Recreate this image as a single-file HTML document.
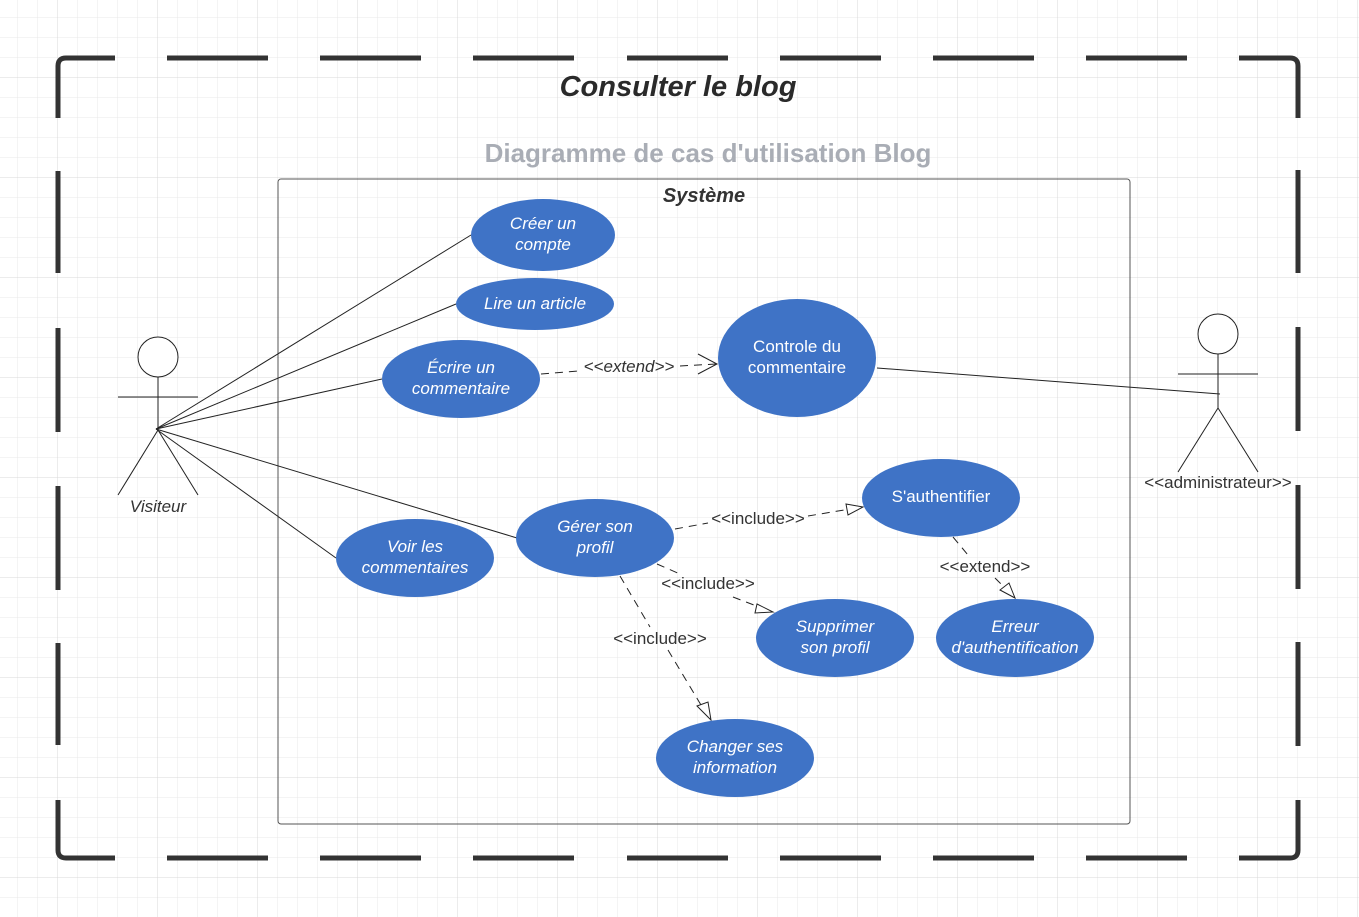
<!DOCTYPE html>
<html><head><meta charset="utf-8"><style>
body{margin:0;width:1359px;height:917px;overflow:hidden;background:#fff}
svg{display:block}
text{font-family:"Liberation Sans",sans-serif}
.uc{fill:#3f73c6}
.ut{fill:#fff;font-size:17px;font-style:italic;text-anchor:middle}
.un{fill:#fff;font-size:17px;text-anchor:middle}
.lbl{fill:#333;font-size:17px;text-anchor:middle}
</style></head><body>
<svg width="1359" height="917" xmlns="http://www.w3.org/2000/svg">
<defs>
<pattern id="g" x="-2" y="-2" width="20" height="20" patternUnits="userSpaceOnUse"><path d="M20 0V20M0 20H20" stroke="#e8e8e8" stroke-width="1" fill="none"/></pattern>
<pattern id="G" x="-42" y="-22" width="100" height="100" patternUnits="userSpaceOnUse"><path d="M100 0V100M0 100H100" stroke="#d8d8d8" stroke-width="1" fill="none"/></pattern>
</defs>
<rect width="1359" height="917" fill="url(#g)"/>
<rect width="1359" height="917" fill="url(#G)"/>
<g stroke="#333" stroke-width="5" fill="none">
<path d="M58 118V66Q58 58 66 58H115"/>
<path d="M167 58H268M320 58H421M473 58H574M627 58H728M780 58H881M933 58H1034M1086 58H1187"/>
<path d="M1239 58H1290Q1298 58 1298 66V118"/>
<path d="M1298 170V273M1298 327V431M1298 485V589M1298 642V746"/>
<path d="M1298 800V850Q1298 858 1290 858H1239"/>
<path d="M167 858H268M320 858H421M473 858H574M627 858H728M780 858H881M933 858H1034M1086 858H1187"/>
<path d="M115 858H66Q58 858 58 850V800"/>
<path d="M58 171V273M58 328V432M58 486V590M58 643V745"/>
</g>
<text x="678" y="96" text-anchor="middle" style="font-size:29px;font-weight:bold;font-style:italic;fill:#2a2a2a">Consulter le blog</text>
<text x="708" y="162" text-anchor="middle" style="font-size:26px;font-weight:bold;fill:#a9adb5">Diagramme de cas d'utilisation Blog</text>
<rect x="278" y="179" width="852" height="645" rx="3" fill="none" stroke="#555" stroke-width="1"/>
<text x="704" y="202" text-anchor="middle" style="font-size:20px;font-weight:bold;font-style:italic;fill:#333">Système</text>
<g stroke="#222" stroke-width="1" fill="none">
<line x1="156" y1="429" x2="471" y2="235"/>
<line x1="156" y1="429" x2="456" y2="304"/>
<line x1="156" y1="429" x2="382" y2="379"/>
<line x1="156" y1="429" x2="517" y2="538"/>
<line x1="156" y1="429" x2="336" y2="558"/>
<line x1="877" y1="368" x2="1220" y2="394"/>
</g>
<g stroke="#222" stroke-width="1" fill="none" stroke-dasharray="8,6">
<line x1="541" y1="374" x2="578" y2="371"/><line x1="680" y1="366" x2="716" y2="364"/>
<line x1="675" y1="529" x2="708" y2="523"/><line x1="808" y1="516" x2="862" y2="507"/>
<line x1="657" y1="564" x2="680" y2="574"/><line x1="733" y1="597" x2="772" y2="612"/>
<line x1="620" y1="576" x2="650" y2="627"/><line x1="668" y1="650" x2="710" y2="720"/>
<line x1="953" y1="537" x2="968" y2="555"/><line x1="995" y1="578" x2="1015" y2="598"/>
</g>
<g stroke="#222" stroke-width="1" fill="none">
<path d="M698 354L717 364L698 374"/>
<path d="M846 504L863 507L848 515Z" fill="#fff"/>
<path d="M757 604L773 612L755 613Z" fill="#fff"/>
<path d="M697 706L711 720L708 702Z" fill="#fff"/>
<path d="M1000 590L1015 598L1009 583Z" fill="#fff"/>
</g>
<text class="lbl" x="629" y="372" style="font-style:italic">&lt;&lt;extend&gt;&gt;</text>
<text class="lbl" x="758" y="524">&lt;&lt;include&gt;&gt;</text>
<text class="lbl" x="708" y="589">&lt;&lt;include&gt;&gt;</text>
<text class="lbl" x="660" y="644">&lt;&lt;include&gt;&gt;</text>
<text class="lbl" x="985" y="572">&lt;&lt;extend&gt;&gt;</text>
<ellipse class="uc" cx="543" cy="235" rx="72" ry="36"/>
<text class="ut" x="543" y="229">Créer un</text><text class="ut" x="543" y="250">compte</text>
<ellipse class="uc" cx="535" cy="304" rx="79" ry="26"/>
<text class="ut" x="535" y="309">Lire un article</text>
<ellipse class="uc" cx="461" cy="379" rx="79" ry="39"/>
<text class="ut" x="461" y="373">Écrire un</text><text class="ut" x="461" y="394">commentaire</text>
<ellipse class="uc" cx="797" cy="358" rx="79" ry="59"/>
<text class="un" x="797" y="352">Controle du</text><text class="un" x="797" y="373">commentaire</text>
<ellipse class="uc" cx="941" cy="498" rx="79" ry="39"/>
<text class="un" x="941" y="502">S'authentifier</text>
<ellipse class="uc" cx="595" cy="538" rx="79" ry="39"/>
<text class="ut" x="595" y="532">Gérer son</text><text class="ut" x="595" y="553">profil</text>
<ellipse class="uc" cx="415" cy="558" rx="79" ry="39"/>
<text class="ut" x="415" y="552">Voir les</text><text class="ut" x="415" y="573">commentaires</text>
<ellipse class="uc" cx="835" cy="638" rx="79" ry="39"/>
<text class="ut" x="835" y="632">Supprimer</text><text class="ut" x="835" y="653">son profil</text>
<ellipse class="uc" cx="1015" cy="638" rx="79" ry="39"/>
<text class="ut" x="1015" y="632">Erreur</text><text class="ut" x="1015" y="653">d'authentification</text>
<ellipse class="uc" cx="735" cy="758" rx="79" ry="39"/>
<text class="ut" x="735" y="752">Changer ses</text><text class="ut" x="735" y="773">information</text>
<g stroke="#222" stroke-width="1" fill="#fff">
<circle cx="158" cy="357" r="20"/>
<path d="M118 397H198M158 377V430M158 430L118 495M158 430L198 495" fill="none"/>
<circle cx="1218" cy="334" r="20"/>
<path d="M1178 374H1258M1218 354V408M1218 408L1178 472M1218 408L1258 472" fill="none"/>
</g>
<text x="158" y="512" text-anchor="middle" style="font-size:17px;font-style:italic;fill:#333">Visiteur</text>
<text x="1218" y="488" text-anchor="middle" style="font-size:17px;fill:#333">&lt;&lt;administrateur&gt;&gt;</text>
</svg>
</body></html>
